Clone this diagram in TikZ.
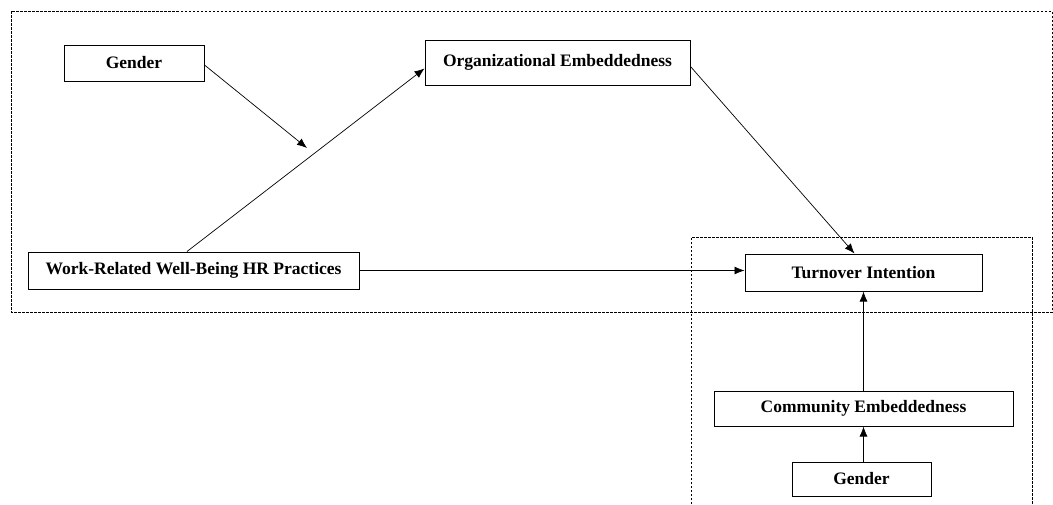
\documentclass[tikz,border=0pt]{standalone}
\usepackage{fontspec}
\setmainfont{Liberation Serif}
\usetikzlibrary{arrows.meta,calc}
\begin{document}
\begin{tikzpicture}[x=1pt,y=-1pt,
  box/.style={draw, line width=1pt, fill=white, inner sep=0pt, font=\fontsize{17.5}{20}\selectfont\bfseries},
  arr/.style={line width=0.7pt, -{Latex[length=10pt,width=8pt]}},
  grp/.style={line width=0.6pt, dash pattern=on 2.5pt off 1.5pt}]
\useasboundingbox (0,0) rectangle (1053,504);
\draw[grp] (11,11) rectangle (1052,312);
\draw[grp] (691,504) -- (691,237) -- (1032,237) -- (1032,504);
\node[box, minimum width=140pt, minimum height=36pt] (g1) at (134,63) {Gender};
\node[box, minimum width=265pt, minimum height=45pt] (org) at (557.5,62.5) {Organizational Embeddedness};
\node[box, minimum width=331pt, minimum height=37pt] (wr) at (193.5,270.5) {Work-Related Well-Being HR Practices};
\node[box, minimum width=237pt, minimum height=37pt] (ti) at (863.5,272.5) {Turnover Intention};
\node[box, minimum width=299pt, minimum height=35pt] (ce) at (863.5,408.5) {Community Embeddedness};
\node[box, minimum width=139pt, minimum height=34pt] (g2) at (861.5,479) {Gender};
\coordinate (mod) at (307,148);
\draw[arr] ($(wr.north)+(-6.5,0)$) -- ($(org.west)+(0,6)$);
\draw[arr] ($(g1.east)+(0,2)$) -- (mod);
\draw[arr] ($(org.east)+(0,4)$) -- ($(ti.north)+(-9,0)$);
\draw[arr] (wr.east) -- (wr.east -| ti.west);
\draw[arr] (ce.north) -- (ti.south);
\draw[arr] ($(g2.north)+(2,0)$) -- (ce.south);
\end{tikzpicture}
\end{document}
